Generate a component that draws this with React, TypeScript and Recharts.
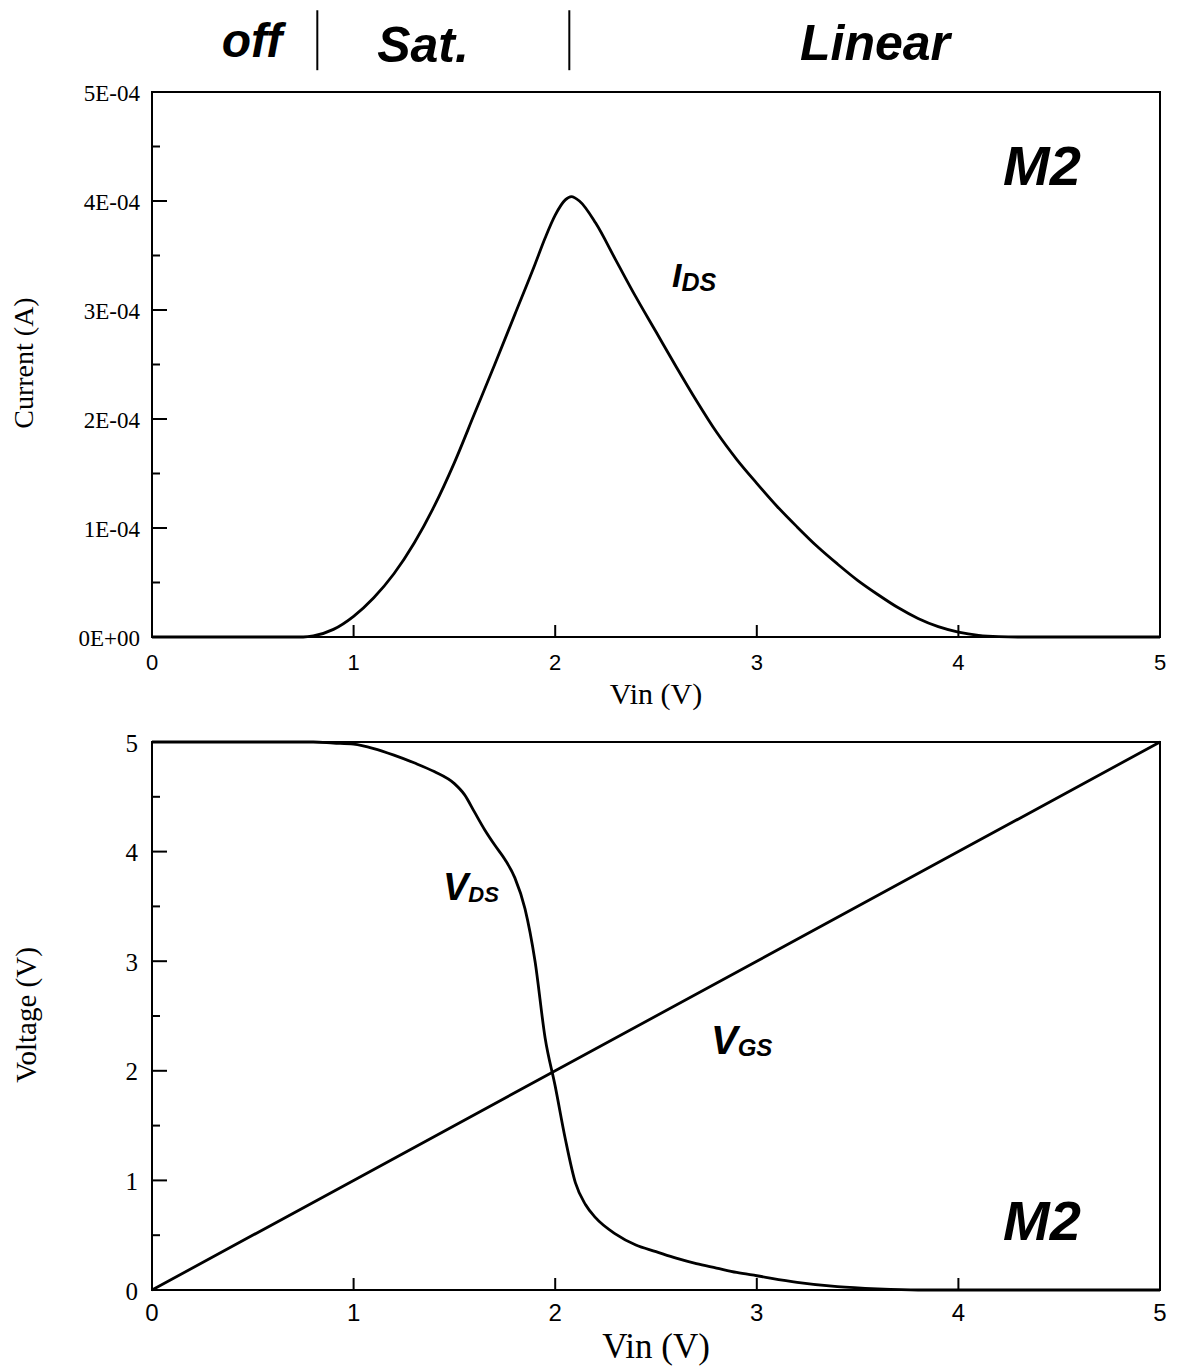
import { LineChart, Line, XAxis, YAxis, ReferenceArea, ReferenceLine } from 'recharts';

// ---- top panel: M2 drain current vs Vin ----
const idsVin = [
  0, 0.5, 0.75, 0.8, 0.9, 1.0, 1.1, 1.2, 1.3, 1.4, 1.5, 1.6, 1.7, 1.8, 1.9, 1.95, 2.0, 2.05, 2.08,
  2.12, 2.2, 2.3, 2.4, 2.5, 2.6, 2.7, 2.8, 2.9, 3.0, 3.1, 3.2, 3.3, 3.4, 3.5, 3.6, 3.7, 3.8, 3.9,
  4.0, 4.1, 4.2, 4.3, 5.0,
];
const idsAmps = [
  0, 0, 0, 0.01e-4, 0.07e-4, 0.19e-4, 0.36e-4, 0.58e-4, 0.86e-4, 1.2e-4, 1.6e-4, 2.05e-4, 2.5e-4,
  2.96e-4, 3.42e-4, 3.66e-4, 3.87e-4, 4.01e-4, 4.04e-4, 4.0e-4, 3.8e-4, 3.46e-4, 3.12e-4, 2.8e-4,
  2.48e-4, 2.17e-4, 1.88e-4, 1.63e-4, 1.41e-4, 1.2e-4, 1.01e-4, 0.83e-4, 0.67e-4, 0.52e-4, 0.39e-4,
  0.27e-4, 0.17e-4, 0.095e-4, 0.045e-4, 0.015e-4, 0.003e-4, 0, 0,
];

const currentTicks = [0, 0.5e-4, 1e-4, 1.5e-4, 2e-4, 2.5e-4, 3e-4, 3.5e-4, 4e-4, 4.5e-4, 5e-4];
const currentTickLabels = ['0E+00', '', '1E-04', '', '2E-04', '', '3E-04', '', '4E-04', '', '5E-04'];

const vinTicks = [0, 1, 2, 3, 4, 5];
const vinTickLabels = ['0', '1', '2', '3', '4', '5'];

// off | Sat. | Linear boundaries (V)
const regionBounds = [0.82, 2.07];
const regionNames = ['off', 'Sat.', 'Linear'];

// ---- bottom panel: M2 terminal voltages vs Vin ----
const vdsVin = [
  0, 0.5, 0.8, 0.9, 1.0, 1.1, 1.2, 1.3, 1.4, 1.5, 1.55, 1.6, 1.65, 1.7, 1.75, 1.8, 1.85, 1.9, 1.95,
  2.0, 2.05, 2.1, 2.15, 2.2, 2.3, 2.4, 2.5, 2.6, 2.7, 2.8, 2.9, 3.0, 3.2, 3.4, 3.6, 3.8, 4.0, 5.0,
];
const vdsVolts = [
  5, 5, 5, 4.99, 4.98, 4.94, 4.88, 4.81, 4.73, 4.62, 4.52, 4.36, 4.2, 4.06, 3.93, 3.76, 3.48, 3.0, 2.3,
  1.86, 1.38, 0.98, 0.78, 0.66, 0.51, 0.41, 0.35, 0.29, 0.24, 0.2, 0.16, 0.13, 0.07, 0.03, 0.01, 0, 0, 0,
];
const vgsVin = [0, 1, 2, 3, 4, 5];
const vgsVolts = [0, 1, 2, 3, 4, 5];

const voltageTicks = [0, 0.5, 1, 1.5, 2, 2.5, 3, 3.5, 4, 4.5, 5];
const voltageTickLabels = ['0', '', '1', '', '2', '', '3', '', '4', '', '5'];

const serif = '"Liberation Serif", "Times New Roman", serif';
const sans = '"Liberation Sans", Arial, Helvetica, sans-serif';

const idsData = idsVin.map((v, i) => ({ vin: v, ids: idsAmps[i] }));
const vdsData = vdsVin.map((v, i) => ({ vin: v, vds: vdsVolts[i] }));
const vgsData = vgsVin.map((v, i) => ({ vin: v, vgs: vgsVolts[i] }));

// inward ticks, long for labelled values, short for the half steps
function leftTick(labels: string[], gap: number, size: number) {
  return (props: any) => {
    const { x, y, index } = props;
    const label = labels[index];
    const len = label ? 15 : 8;
    return (
      <g>
        <line x1={x} x2={x + len} y1={y} y2={y} stroke="#000" strokeWidth={2} />
        {label ? (
          <text x={x - gap} y={y} dy="0.38em" textAnchor="end" fontFamily={serif} fontSize={size} fill="#000">
            {label}
          </text>
        ) : null}
      </g>
    );
  };
}

function bottomTick(labels: string[], offset: number, size: number) {
  return (props: any) => {
    const { x, y, index } = props;
    return (
      <g>
        <line x1={x} x2={x} y1={y} y2={y - 12} stroke="#000" strokeWidth={2} />
        <text x={x} y={y + offset} textAnchor="middle" fontFamily={sans} fontSize={size} fill="#000">
          {labels[index]}
        </text>
      </g>
    );
  };
}

export default function App() {
  return (
    <div style={{ position: 'absolute', left: 0, top: 0, width: 1177, height: 1369, background: '#fff' }}>
      <div style={{ position: 'absolute', left: 0, top: 0 }}>
        <LineChart width={1177} height={720} data={idsData} margin={{ top: 92, right: 17, bottom: 0, left: 0 }}>
          <XAxis
            dataKey="vin"
            type="number"
            domain={[0, 5]}
            ticks={vinTicks}
            interval={0}
            height={83}
            tickSize={0}
            tickMargin={0}
            axisLine={{ stroke: '#000', strokeWidth: 2 }}
            tick={bottomTick(vinTickLabels, 33, 22)}
          />
          <YAxis
            type="number"
            domain={[0, 5e-4]}
            ticks={currentTicks}
            interval={0}
            width={152}
            tickSize={0}
            tickMargin={0}
            axisLine={{ stroke: '#000', strokeWidth: 2 }}
            tick={leftTick(currentTickLabels, 12, 23)}
          />
          <ReferenceArea x1={0} x2={5} y1={0} y2={5e-4} fill="none" stroke="#000" strokeWidth={2} />
          {regionBounds.map((b) => (
            <ReferenceLine
              key={b}
              segment={[
                { x: b, y: 5.2e-4 },
                { x: b, y: 5.75e-4 },
              ]}
              ifOverflow="visible"
              stroke="#000"
              strokeWidth={2}
            />
          ))}
          <Line
            type="monotone"
            dataKey="ids"
            stroke="#000"
            strokeWidth={2.8}
            dot={false}
            isAnimationActive={false}
          />
        </LineChart>
      </div>

      <div style={{ position: 'absolute', left: 0, top: 720 }}>
        <LineChart width={1177} height={649} margin={{ top: 22, right: 17, bottom: 0, left: 0 }}>
          <XAxis
            dataKey="vin"
            type="number"
            domain={[0, 5]}
            ticks={vinTicks}
            interval={0}
            height={79}
            tickSize={0}
            tickMargin={0}
            axisLine={{ stroke: '#000', strokeWidth: 2 }}
            tick={bottomTick(vinTickLabels, 31, 24)}
            allowDuplicatedCategory={false}
          />
          <YAxis
            type="number"
            domain={[0, 5]}
            ticks={voltageTicks}
            interval={0}
            width={152}
            tickSize={0}
            tickMargin={0}
            axisLine={{ stroke: '#000', strokeWidth: 2 }}
            tick={leftTick(voltageTickLabels, 14, 25)}
          />
          <ReferenceArea x1={0} x2={5} y1={0} y2={5} fill="none" stroke="#000" strokeWidth={2} />
          <Line
            data={vgsData}
            type="linear"
            dataKey="vgs"
            stroke="#000"
            strokeWidth={2.8}
            dot={false}
            isAnimationActive={false}
          />
          <Line
            data={vdsData}
            type="monotone"
            dataKey="vds"
            stroke="#000"
            strokeWidth={2.8}
            dot={false}
            isAnimationActive={false}
          />
        </LineChart>
      </div>

      <svg
        width={1177}
        height={1369}
        style={{ position: 'absolute', left: 0, top: 0, pointerEvents: 'none' }}
      >
        <g fontFamily={sans} fontWeight="bold" fontStyle="italic" fill="#000">
          <text x={252} y={57} fontSize={48} textAnchor="middle">{regionNames[0]}</text>
          <text x={423} y={62} fontSize={50} textAnchor="middle">{regionNames[1]}</text>
          <text x={875} y={60} fontSize={50} textAnchor="middle">{regionNames[2]}</text>

          <text x={1003} y={185} fontSize={56}>M2</text>
          <text x={1003} y={1240} fontSize={56}>M2</text>

          <text x={672} y={287}>
            <tspan fontSize={34}>I</tspan>
            <tspan fontSize={25} dy={4}>DS</tspan>
          </text>
          <text x={443} y={900}>
            <tspan fontSize={38}>V</tspan>
            <tspan fontSize={22} dy={2}>DS</tspan>
          </text>
          <text x={711} y={1054}>
            <tspan fontSize={40}>V</tspan>
            <tspan fontSize={24} dy={2}>GS</tspan>
          </text>
        </g>
        <g fontFamily={serif} fill="#000">
          <text x={656} y={704} fontSize={30} textAnchor="middle">Vin (V)</text>
          <text x={656} y={1358} fontSize={35} textAnchor="middle">Vin (V)</text>
          <text transform="translate(33 363) rotate(-90)" fontSize={28} textAnchor="middle">Current (A)</text>
          <text transform="translate(36 1015) rotate(-90)" fontSize={29} textAnchor="middle">Voltage (V)</text>
        </g>
      </svg>
    </div>
  );
}
